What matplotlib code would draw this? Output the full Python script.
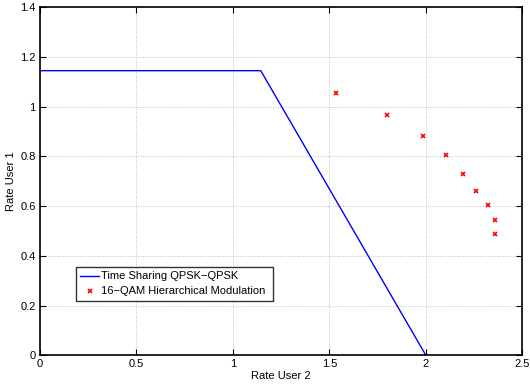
import matplotlib
matplotlib.use("Agg")
import matplotlib.pyplot as plt

plt.rcParams['font.family'] = ['Liberation Sans', 'DejaVu Sans']

# Time sharing boundary
ts_x = [0, 1.145, 2.0]
ts_y = [1.145, 1.145, 0.0]

# 16-QAM hierarchical modulation points
hm_x = [1.534, 1.797, 1.988, 2.106, 2.191, 2.262, 2.323, 2.357, 2.359]
hm_y = [1.054, 0.965, 0.882, 0.804, 0.730, 0.661, 0.603, 0.545, 0.489]

xticks = [0, 0.5, 1, 1.5, 2, 2.5]
xticklabels = ['0', '0.5', '1', '1.5', '2', '2.5']
yticks = [0, 0.2, 0.4, 0.6, 0.8, 1, 1.2, 1.4]
yticklabels = ['0', '0.2', '0.4', '0.6', '0.8', '1', '1.2', '1.4']

fig = plt.figure(figsize=(5.3, 3.85), dpi=100)
ax = fig.add_axes([0.075, 0.0774, 0.9105, 0.9036])

ax.plot(ts_x, ts_y, color='#0000ff', lw=1.0, label='Time Sharing QPSK\u2212QPSK')
ax.plot(hm_x, hm_y, linestyle='none', marker='x', color='#ff0000', ms=3, mew=1.2,
        label='16\u2212QAM Hierarchical Modulation')

ax.set_xlim(0, 2.5)
ax.set_ylim(0, 1.4)
ax.set_xticks(xticks)
ax.set_xticklabels(xticklabels)
ax.set_yticks(yticks)
ax.set_yticklabels(yticklabels)
ax.tick_params(direction='in', top=True, right=True, length=4, width=0.8, labelsize=8, pad=3)
ax.grid(True, linestyle=(0, (1, 2)), color='#aaaaaa', lw=0.6)
for s in ax.spines.values():
    s.set_linewidth(1.2)
ax.set_xlabel('Rate User 2', fontsize=8, labelpad=1)
ax.set_ylabel('Rate User 1', fontsize=8, labelpad=3)

leg = ax.legend(loc='lower left', bbox_to_anchor=(0.0746, 0.156, 0.409, 0.110), mode='expand',
                fontsize=8, frameon=True, fancybox=False, edgecolor='black',
                borderaxespad=0, handlelength=1.7, handletextpad=0.15, labelspacing=0.45,
                borderpad=0.4)
leg.get_frame().set_linewidth(1.0)
leg.legend_handles[1].set_markersize(3)

fig.savefig('out.png', dpi=100)
